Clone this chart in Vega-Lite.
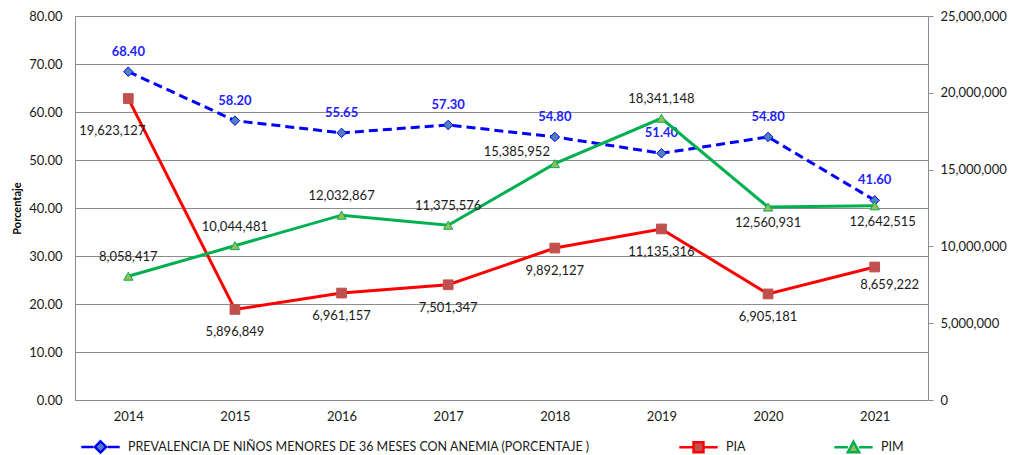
{
  "$schema": "https://vega.github.io/schema/vega-lite/v6.json",
  "width": 853,
  "height": 384,
  "autosize": {"type": "none"},
  "padding": {"left": 75, "top": 16, "right": 83, "bottom": 55},
  "background": "white",
  "config": {
    "font": "Lato",
    "view": {"stroke": null},
    "axis": {
      "labelFont": "Lato",
      "labelFontSize": 13,
      "labelColor": "#1a1a1a",
      "domainColor": "#8c8c8c",
      "tickColor": "#8c8c8c",
      "gridColor": "#8c8c8c",
      "titleFont": "Lato"
    },
    "text": {"font": "Lato", "fontSize": 13, "color": "#1a1a1a"}
  },
  "data": {
    "values": [
      {"year": "2014", "prev": 68.40, "pia": 19623127, "pim": 8058417},
      {"year": "2015", "prev": 58.20, "pia": 5896849, "pim": 10044481},
      {"year": "2016", "prev": 55.65, "pia": 6961157, "pim": 12032867},
      {"year": "2017", "prev": 57.30, "pia": 7501347, "pim": 11375576},
      {"year": "2018", "prev": 54.80, "pia": 9892127, "pim": 15385952},
      {"year": "2019", "prev": 51.40, "pia": 11135316, "pim": 18341148},
      {"year": "2020", "prev": 54.80, "pia": 6905181, "pim": 12560931},
      {"year": "2021", "prev": 41.60, "pia": 8659222, "pim": 12642515}
    ]
  },
  "encoding": {
    "x": {
      "field": "year",
      "type": "ordinal",
      "scale": {"type": "point", "padding": 0.5},
      "axis": {"title": null, "labelAngle": 0, "ticks": false, "labelPadding": 10, "grid": false, "domainColor": "#8c8c8c"}
    }
  },
  "layer": [
    {
      "encoding": {
        "y": {
          "field": "prev",
          "type": "quantitative",
          "scale": {"domain": [0, 80], "nice": false},
          "axis": {
            "orient": "left",
            "values": [0, 10, 20, 30, 40, 50, 60, 70, 80],
            "format": ".2f",
            "grid": true,
            "ticks": false,
            "labelPadding": 13,
            "title": "Porcentaje",
            "titleFontSize": 11,
            "titleFontWeight": "bold",
            "titleColor": "#000000",
            "titlePadding": 6
          }
        }
      },
      "layer": [
        {
          "mark": {"type": "line", "strokeWidth": 3, "strokeDash": [9, 5]},
          "encoding": {
            "color": {
              "datum": "PREVALENCIA DE NIÑOS MENORES DE 36 MESES CON ANEMIA (PORCENTAJE )",
              "type": "nominal",
              "scale": {
                "domain": ["PREVALENCIA DE NIÑOS MENORES DE 36 MESES CON ANEMIA (PORCENTAJE )", "PIA", "PIM"],
                "range": ["#0000FF", "#FF0000", "#00B050"]
              },
              "legend": {
                "orient": "none",
                "legendX": 16,
                "legendY": 421,
                "direction": "horizontal",
                "title": null,
                "padding": 0,
                "symbolSize": 256,
                "labelOffset": 18,
                "labelLimit": 800,
                "labelFont": "Lato",
                "labelFontSize": 12.5,
                "labelColor": "#1a1a1a",
                "columnPadding": 83,
                "encode": {
                  "symbols": {
                    "update": {
                      "shape": [
                        {"test": "datum.value === 'PIA'", "value": "M-2.4,0L-0.62,0M0.62,0L2.4,0M-0.62,-0.62L0.62,-0.62L0.62,0.62L-0.62,0.62Z"},
                        {"test": "datum.value === 'PIM'", "value": "M-2.4,0L-0.7,0M0.7,0L2.4,0M0,-0.7L0.7,0.6L-0.7,0.6Z"},
                        {"value": "M-2.4,0L-0.9,0M0.9,0L2.4,0M0,-0.7L0.7,0L0,0.7L-0.7,0Z"}
                      ],
                      "fill": [
                        {"test": "datum.value === 'PIA'", "value": "#C0504D"},
                        {"test": "datum.value === 'PIM'", "value": "#9BBB59"},
                        {"value": "#4F81BD"}
                      ],
                      "stroke": [
                        {"test": "datum.value === 'PIA'", "value": "#FF0000"},
                        {"test": "datum.value === 'PIM'", "value": "#00B050"},
                        {"value": "#0000FF"}
                      ],
                      "strokeWidth": {"value": 2.5},
                      "strokeDash": {"value": []},
                      "opacity": {"value": 1},
                      "fillOpacity": {"value": 1}
                    }
                  }
                }
              }
            }
          }
        },
        {
          "mark": {"type": "point", "shape": "diamond", "filled": true, "fill": "#4F81BD", "stroke": "#0000FF", "strokeWidth": 1, "size": 90, "opacity": 1}
        },
        {
          "mark": {"type": "text", "dy": -20, "fontWeight": "bold", "color": "#1E1EFF", "fontSize": 13},
          "encoding": {"text": {"field": "prev", "type": "quantitative", "format": ".2f"}}
        }
      ]
    },
    {
      "layer": [
        {
          "mark": {"type": "line", "strokeWidth": 3},
          "encoding": {
            "y": {"field": "pia", "type": "quantitative", "scale": {"domain": [0, 25000000], "nice": false},
              "axis": {"orient": "right", "values": [0, 5000000, 10000000, 15000000, 20000000, 25000000], "format": ",.0f", "grid": false, "ticks": true, "tickSize": 5, "labelPadding": 7, "title": null}},
            "color": {"datum": "PIA", "type": "nominal"}
          }
        },
        {
          "mark": {"type": "point", "shape": "square", "filled": true, "fill": "#C0504D", "stroke": "#C0504D", "strokeWidth": 1, "size": 95, "opacity": 1},
          "encoding": {
            "y": {"field": "pia", "type": "quantitative", "scale": {"domain": [0, 25000000], "nice": false},
              "axis": {"orient": "right", "values": [0, 5000000, 10000000, 15000000, 20000000, 25000000], "format": ",.0f", "grid": false, "ticks": true, "tickSize": 5, "labelPadding": 7, "title": null}}
          }
        },
        {
          "mark": {"type": "line", "strokeWidth": 3},
          "encoding": {
            "y": {"field": "pim", "type": "quantitative", "scale": {"domain": [0, 25000000], "nice": false},
              "axis": {"orient": "right", "values": [0, 5000000, 10000000, 15000000, 20000000, 25000000], "format": ",.0f", "grid": false, "ticks": true, "tickSize": 5, "labelPadding": 7, "title": null}},
            "color": {"datum": "PIM", "type": "nominal"}
          }
        },
        {
          "mark": {"type": "point", "shape": "triangle-up", "filled": true, "fill": "#9BBB59", "stroke": "#00B050", "strokeWidth": 1, "size": 85, "opacity": 1},
          "encoding": {
            "y": {"field": "pim", "type": "quantitative", "scale": {"domain": [0, 25000000], "nice": false},
              "axis": {"orient": "right", "values": [0, 5000000, 10000000, 15000000, 20000000, 25000000], "format": ",.0f", "grid": false, "ticks": true, "tickSize": 5, "labelPadding": 7, "title": null}}
          }
        },
        {
          "transform": [{"filter": "datum.year == '2014'"}],
          "mark": {"type": "text", "dx": -16, "dy": 32},
          "encoding": {
            "y": {"field": "pia", "type": "quantitative", "scale": {"domain": [0, 25000000], "nice": false},
              "axis": {"orient": "right", "values": [0, 5000000, 10000000, 15000000, 20000000, 25000000], "format": ",.0f", "grid": false, "ticks": true, "tickSize": 5, "labelPadding": 7, "title": null}},
            "text": {"field": "pia", "type": "quantitative", "format": ","}
          }
        },
        {
          "transform": [{"filter": "datum.year == '2021'"}],
          "mark": {"type": "text", "dx": 15, "dy": 18},
          "encoding": {
            "y": {"field": "pia", "type": "quantitative", "scale": {"domain": [0, 25000000], "nice": false},
              "axis": {"orient": "right", "values": [0, 5000000, 10000000, 15000000, 20000000, 25000000], "format": ",.0f", "grid": false, "ticks": true, "tickSize": 5, "labelPadding": 7, "title": null}},
            "text": {"field": "pia", "type": "quantitative", "format": ","}
          }
        },
        {
          "transform": [{"filter": "datum.year != '2014' && datum.year != '2021'"}],
          "mark": {"type": "text", "dy": 23},
          "encoding": {
            "y": {"field": "pia", "type": "quantitative", "scale": {"domain": [0, 25000000], "nice": false},
              "axis": {"orient": "right", "values": [0, 5000000, 10000000, 15000000, 20000000, 25000000], "format": ",.0f", "grid": false, "ticks": true, "tickSize": 5, "labelPadding": 7, "title": null}},
            "text": {"field": "pia", "type": "quantitative", "format": ","}
          }
        },
        {
          "transform": [{"filter": "datum.year == '2018'"}],
          "mark": {"type": "text", "dx": -38, "dy": -12},
          "encoding": {
            "y": {"field": "pim", "type": "quantitative", "scale": {"domain": [0, 25000000], "nice": false},
              "axis": {"orient": "right", "values": [0, 5000000, 10000000, 15000000, 20000000, 25000000], "format": ",.0f", "grid": false, "ticks": true, "tickSize": 5, "labelPadding": 7, "title": null}},
            "text": {"field": "pim", "type": "quantitative", "format": ","}
          }
        },
        {
          "transform": [{"filter": "datum.year == '2020'"}],
          "mark": {"type": "text", "dy": 16},
          "encoding": {
            "y": {"field": "pim", "type": "quantitative", "scale": {"domain": [0, 25000000], "nice": false},
              "axis": {"orient": "right", "values": [0, 5000000, 10000000, 15000000, 20000000, 25000000], "format": ",.0f", "grid": false, "ticks": true, "tickSize": 5, "labelPadding": 7, "title": null}},
            "text": {"field": "pim", "type": "quantitative", "format": ","}
          }
        },
        {
          "transform": [{"filter": "datum.year == '2021'"}],
          "mark": {"type": "text", "dx": 8, "dy": 16},
          "encoding": {
            "y": {"field": "pim", "type": "quantitative", "scale": {"domain": [0, 25000000], "nice": false},
              "axis": {"orient": "right", "values": [0, 5000000, 10000000, 15000000, 20000000, 25000000], "format": ",.0f", "grid": false, "ticks": true, "tickSize": 5, "labelPadding": 7, "title": null}},
            "text": {"field": "pim", "type": "quantitative", "format": ","}
          }
        },
        {
          "transform": [{"filter": "datum.year != '2018' && datum.year != '2020' && datum.year != '2021'"}],
          "mark": {"type": "text", "dy": -19},
          "encoding": {
            "y": {"field": "pim", "type": "quantitative", "scale": {"domain": [0, 25000000], "nice": false},
              "axis": {"orient": "right", "values": [0, 5000000, 10000000, 15000000, 20000000, 25000000], "format": ",.0f", "grid": false, "ticks": true, "tickSize": 5, "labelPadding": 7, "title": null}},
            "text": {"field": "pim", "type": "quantitative", "format": ","}
          }
        }
      ]
    }
  ],
  "resolve": {"scale": {"y": "independent"}}
}
